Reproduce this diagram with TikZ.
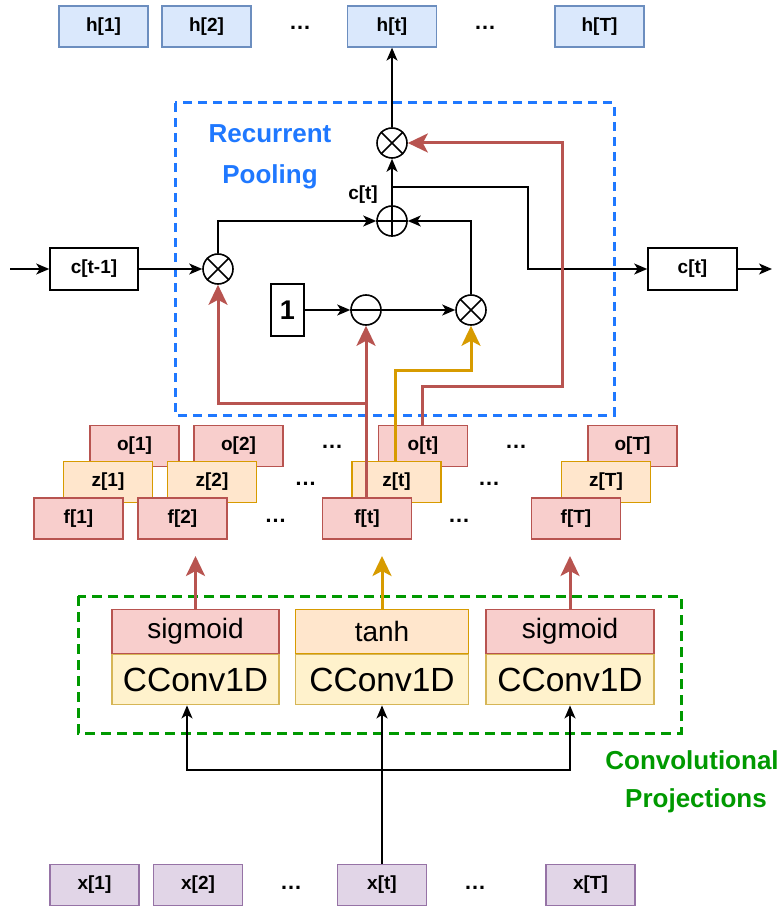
\documentclass[tikz,border=0pt]{standalone}
\usepackage{fontspec}
\setmainfont{Liberation Sans}
\usetikzlibrary{arrows.meta}
\definecolor{hfill}{HTML}{DAE8FC}\definecolor{hline}{HTML}{6C8EBF}
\definecolor{rfill}{HTML}{F8CECC}\definecolor{rline}{HTML}{B85450}
\definecolor{ofill}{HTML}{FFE6CC}\definecolor{oline}{HTML}{D79B00}
\definecolor{yfill}{HTML}{FFF2CC}\definecolor{yline}{HTML}{D6B656}
\definecolor{pfill}{HTML}{E1D5E7}\definecolor{pline}{HTML}{9673A6}
\definecolor{poolblue}{HTML}{1F78FF}
\definecolor{convgreen}{HTML}{009900}
\begin{document}
\begin{tikzpicture}[x=1pt,y=-1pt,
  lbl/.style={font=\fontsize{19}{22}\selectfont\bfseries},
  seq/.style={lbl, draw, line width=1.3pt, minimum width=89pt, minimum height=41pt, inner sep=0pt},
  hcell/.style={seq, fill=hfill, draw=hline},
  rcell/.style={seq, fill=rfill, draw=rline},
  ocell/.style={seq, fill=ofill, draw=oline},
  xcell/.style={seq, fill=pfill, draw=pline},
  dots/.style={font=\fontsize{22}{24}\selectfont\bfseries, inner sep=0pt},
  statebox/.style={lbl, draw, line width=1.6pt, minimum width=88pt, minimum height=42pt, inner sep=0pt, fill=white},
  gate/.style={circle, draw, line width=1.6pt, minimum size=30pt, inner sep=0pt, fill=white},
  wire/.style={line width=1.6pt},
  awire/.style={wire, -{Stealth[length=13pt,width=11pt,inset=3.5pt]}},
  bigtip/.style={-{Stealth[length=20pt,width=19pt,inset=5pt]}},
  redwire/.style={draw=rline, line width=3pt},
  orwire/.style={draw=oline, line width=3pt},
  actbox/.style={draw, line width=1.3pt, minimum height=44pt, inner sep=0pt, font=\fontsize{28}{30}\selectfont},
  convbox/.style={draw=yline, fill=yfill, line width=1.3pt, minimum height=50pt, inner sep=0pt, font=\fontsize{33.5}{36}\selectfont},
  grouptitle/.style={font=\fontsize{26}{30}\selectfont\bfseries, inner sep=0pt}
]
\useasboundingbox (0,0) rectangle (782,909);

% hidden states
\node[hcell] (h1) at (103.5,26.5) {h[1]};
\node[hcell] (h2) at (206.5,26.5) {h[2]};
\node[dots] (hd1) at (300,28) {…};
\node[hcell] (ht) at (392,26.5) {h[t]};
\node[dots] (hd2) at (485,28) {…};
\node[hcell] (hT) at (599.5,26.5) {h[T]};

% recurrent pooling block
\draw[draw=poolblue, line width=3pt, dash pattern=on 9pt off 6pt] (175,103) rectangle (614,415);
\node[grouptitle, text=poolblue] (rtitle1) at (270,134) {Recurrent};
\node[grouptitle, text=poolblue] (rtitle2) at (270,177) {Pooling};

% gate stacks: o (back), z (middle), f (front)
\node[rcell] (o1) at (134.5,446) {o[1]};
\node[rcell] (o2) at (238.5,446) {o[2]};
\node[dots] (od1) at (332,447) {…};
\node[rcell] (ot) at (423,446) {o[t]};
\node[dots] (od2) at (516,447) {…};
\node[rcell] (oT) at (632.5,446) {o[T]};

\node[ocell] (z1) at (108,482) {z[1]};
\node[ocell] (z2) at (212,482) {z[2]};
\node[dots] (zd1) at (305.5,484) {…};
\node[ocell] (zt) at (396.5,482) {z[t]};
\node[dots] (zd2) at (489,484) {…};
\node[ocell] (zT) at (606,482) {z[T]};

\node[rcell] (f1) at (78.5,518.5) {f[1]};
\node[rcell] (f2) at (182.5,518.5) {f[2]};
\node[dots] (fd1) at (275.5,521) {…};
\node[rcell] (ft) at (367,518.5) {f[t]};
\node[dots] (fd2) at (459,521) {…};
\node[rcell] (fT) at (576,518.5) {f[T]};

% cell state boxes
\node[statebox] (cprev) at (94,269) {c[t-1]};
\node[statebox, minimum width=89pt] (ct) at (692.5,269) {c[t]};
\node[lbl, draw, line width=1.6pt, minimum width=33pt, minimum height=52pt, inner sep=0pt, font=\fontsize{27}{30}\selectfont\bfseries] (one) at (287.5,310) {1};

% operators
\node[gate] (mo) at (392,143) {};
\node[gate] (add) at (392,221) {};
\node[gate] (mf) at (218,269) {};
\node[gate] (sub) at (366,310) {};
\node[gate] (mz) at (471,310) {};
\draw[wire] (mo.north east) -- (mo.south west) (mo.north west) -- (mo.south east);
\draw[wire] (mf.north east) -- (mf.south west) (mf.north west) -- (mf.south east);
\draw[wire] (mz.north east) -- (mz.south west) (mz.north west) -- (mz.south east);
\draw[wire] (add.north) -- (add.south) (add.west) -- (add.east);
\draw[wire] (sub.west) -- (sub.east);
\node[lbl, anchor=east, inner sep=0pt] (ctlabel) at (378,195) {c[t]};

% black connectors
\coordinate (cin) at (10,269);
\coordinate (cout) at (772,269);
\coordinate (cbr) at (392,187);
\coordinate (cbend) at (528,269);
\draw[awire] (cin) -- (cprev.west);
\draw[awire] (cprev.east) -- (mf.west);
\draw[awire] (mf.north) |- (add.west);
\draw[awire] (mz.north) |- (add.east);
\draw[awire] (add.north) -- (mo.south);
\draw[awire] (mo.north) -- (ht.south);
\draw[awire] (cbr) -| (cbend) -- (ct.west);
\draw[awire] (ct.east) -- (cout);
\draw[awire] (one.east) -- (sub.west);
\draw[awire] (sub.east) -- (mz.west);

% gate signals into the pooling block
\coordinate (fsplit) at (366,403);
\coordinate (zbend) at (471,370);
\coordinate (obend) at (562,386);
\draw[redwire, bigtip] (ft.north -| sub.south) -- (sub.south);
\draw[redwire, bigtip] (fsplit) -| (mf.south);
\draw[orwire, bigtip] (zt.north -| 395,0) |- (zbend) -- (mz.south);
\draw[redwire, bigtip] (ot.north -| 422,0) |- (obend) |- (mo.east);

% convolutional projections
\draw[draw=convgreen, line width=3pt, dash pattern=on 10pt off 6pt] (78,596) rectangle (681,733);
\node[actbox, draw=rline, fill=rfill, minimum width=167pt] (sig1) at (195.5,631.5) {sigmoid};
\node[convbox, minimum width=167pt, anchor=north] (cc1) at (sig1.south) {CConv1D};
\node[actbox, draw=oline, fill=ofill, minimum width=173.5pt] (tanhb) at (382,631.5) {tanh};
\node[convbox, minimum width=173.5pt, anchor=north] (cc2) at (tanhb.south) {CConv1D};
\node[actbox, draw=rline, fill=rfill, minimum width=168pt] (sig2) at (570,631.5) {sigmoid};
\node[convbox, minimum width=168pt, anchor=north] (cc3) at (sig2.south) {CConv1D};
\node[grouptitle, text=convgreen] (gtitle1) at (692,760) {Convolutional};
\node[grouptitle, text=convgreen] (gtitle2) at (696,801) {Projections};

\coordinate (tiprow) at (0,556);
\draw[redwire, bigtip] (sig1.north) -- (sig1.north |- tiprow);
\draw[orwire, bigtip] (tanhb.north) -- (tanhb.north |- tiprow);
\draw[redwire, bigtip] (sig2.north) -- (sig2.north |- tiprow);

% inputs
\node[xcell] (x1) at (94.5,885) {x[1]};
\node[xcell] (x2) at (198,885) {x[2]};
\node[dots] (xd1) at (291,888) {…};
\node[xcell] (xt) at (382,885) {x[t]};
\node[dots] (xd2) at (475,888) {…};
\node[xcell] (xT) at (590.5,885) {x[T]};

\coordinate (xsplit) at (382,770);
\draw[awire] (xt.north) -- (cc2.south);
\draw[awire] (xsplit) -| ([xshift=-8.5pt]cc1.south);
\draw[awire] (xsplit) -| (cc3.south);
\end{tikzpicture}
\end{document}
